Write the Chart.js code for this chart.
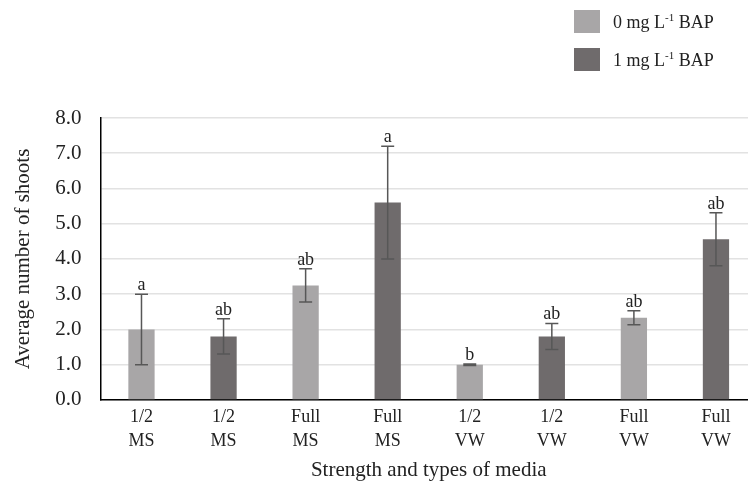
<!DOCTYPE html>
<html>
<head>
<meta charset="utf-8">
<script src="https://cdn.jsdelivr.net/npm/chart.js@4.4.0/dist/chart.umd.min.js"></script>
<style>
  html, body { margin: 0; padding: 0; background: #fff; overflow: hidden; }
  #wrap { position: absolute; left: 0; top: 0; width: 760px; height: 486px; }
</style>
</head>
<body>
<div id="wrap"><canvas id="grafico" width="760" height="486"></canvas></div>
<script>
/* datos */
const categorias = [['1/2', 'MS'], ['1/2', 'MS'], ['Full', 'MS'], ['Full', 'MS'],
                    ['1/2', 'VW'], ['1/2', 'VW'], ['Full', 'VW'], ['Full', 'VW']];
const serie0 = [2.0, null, 3.25, null, 1.0, null, 2.33, null];   // 0 mg L-1 BAP
const serie1 = [null, 1.8, null, 5.6, null, 1.8, null, 4.56];    // 1 mg L-1 BAP
const error0 = [1.0, null, 0.47, null, 0.02, null, 0.2, null];
const error1 = [null, 0.5, null, 1.6, null, 0.37, null, 0.75];
const letras = ['a', 'ab', 'ab', 'a', 'b', 'ab', 'ab', 'ab'];
const ticksY = [0, 1, 2, 3, 4, 5, 6, 7, 8];

const FUENTE = "'Liberation Serif', 'Times New Roman', serif";
const COLOR_CLARO = '#a8a6a7';
const COLOR_OSCURO = '#6f6b6c';

// barras de error + letras
const pluginErrores = {
    id: 'errores',
    afterDatasetsDraw(chart) {
        const ctx = chart.ctx;
        const y = chart.scales.y;
        const errores = [error0, error1];
        ctx.save();
        ctx.strokeStyle = '#575757';
        ctx.lineWidth = 1.5;
        chart.data.datasets.forEach((ds, di) => {
            chart.getDatasetMeta(di).data.forEach((bar, i) => {
                if (ds.data[i] == null) return;
                const v = ds.data[i], e = errores[di][i];
                const yt = y.getPixelForValue(v + e), yb = y.getPixelForValue(v - e);
                ctx.beginPath();
                ctx.moveTo(bar.x, yt); ctx.lineTo(bar.x, yb);
                ctx.moveTo(bar.x - 6.5, yt); ctx.lineTo(bar.x + 6.5, yt);
                ctx.moveTo(bar.x - 6.5, yb); ctx.lineTo(bar.x + 6.5, yb);
                ctx.stroke();
                ctx.fillStyle = '#222';
                ctx.font = '18px ' + FUENTE;
                ctx.textAlign = 'center';
                ctx.textBaseline = 'alphabetic';
                ctx.fillText(letras[i], bar.x, yt - 4);
            });
        });
        ctx.restore();
    }
};

// leyenda con superindice
const pluginLeyenda = {
    id: 'leyendaSup',
    afterDraw(chart) {
        const ctx = chart.ctx;
        ctx.save();
        chart.data.datasets.forEach((ds, i) => {
            const top = 10 + i * 38;
            ctx.fillStyle = ds.backgroundColor;
            ctx.fillRect(574, top, 26, 23);
            ctx.fillStyle = '#222';
            ctx.textBaseline = 'alphabetic';
            ctx.textAlign = 'left';
            let x = 613;
            const base = top + 18;
            const partes = ds.label.split('^');
            ctx.font = '18px ' + FUENTE;
            ctx.fillText(partes[0], x, base);
            x += ctx.measureText(partes[0]).width;
            ctx.font = '11px ' + FUENTE;
            ctx.fillText('-1', x, base - 7);
            x += ctx.measureText('-1').width;
            ctx.font = '18px ' + FUENTE;
            ctx.fillText(partes[2], x, base);
        });
        ctx.restore();
    }
};

new Chart(document.getElementById('grafico').getContext('2d'), {
    type: 'bar',
    data: {
        labels: categorias,
        datasets: [
            { label: '0 mg L^-1^ BAP', data: serie0, backgroundColor: COLOR_CLARO },
            { label: '1 mg L^-1^ BAP', data: serie1, backgroundColor: COLOR_OSCURO }
        ]
    },
    options: {
        responsive: false,
        animation: false,
        datasets: { bar: { grouped: false, categoryPercentage: 1, barPercentage: 0.32 } },
        layout: { padding: { top: 118, right: 3, left: 11, bottom: 0 } },
        plugins: { legend: { display: false }, tooltip: { enabled: false } },
        scales: {
            x: {
                grid: { display: false, drawTicks: false },
                border: { color: '#000', width: 1.5 },
                ticks: { color: '#222', font: { family: FUENTE, size: 18, lineHeight: 1.33 }, padding: 5, maxRotation: 0, autoSkip: false },
                title: { display: true, text: 'Strength and types of media', color: '#222', font: { family: FUENTE, size: 21 }, padding: { top: 0, bottom: 3 } }
            },
            y: {
                min: 0, max: 8,
                afterBuildTicks: (s) => { s.ticks = ticksY.map(v => ({ value: v })); },
                grid: { color: '#e2e2e2', lineWidth: 1.5, drawTicks: false },
                border: { color: '#000', width: 1.5 },
                ticks: { color: '#222', font: { family: FUENTE, size: 21 }, padding: 19, callback: v => v.toFixed(1) },
                title: { display: true, text: 'Average number of shoots', color: '#222', font: { family: FUENTE, size: 21 }, padding: { top: 0, bottom: 0 } }
            }
        }
    },
    plugins: [pluginErrores, pluginLeyenda]
});
</script>
</body>
</html>
